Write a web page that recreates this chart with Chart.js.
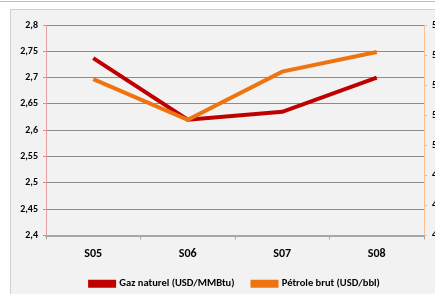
<!DOCTYPE html>
<html>
<head>
<meta charset="utf-8">
<script src="https://cdn.jsdelivr.net/npm/chart.js"></script>
<style>
  html, body { margin: 0; padding: 0; background: #fff; overflow: hidden; width: 435px; height: 294px; }
  #topline { position: absolute; left: 0; top: 1px; width: 435px; height: 1px; background: #bfbfbf; }
  #frame { position: absolute; left: 10px; top: 9px; width: 450px; height: 300px;
           background: #f2f2f2; border: 1px solid #d0d0d0; box-sizing: border-box; }
  #wrap { position: absolute; left: 0; top: 3px; width: 448px; height: 286px; }
</style>
</head>
<body>
<div id="topline"></div>
<div id="frame"><div id="wrap"><canvas id="chart"></canvas></div></div>
<script>
const weeks = ['S05', 'S06', 'S07', 'S08'];
const gasPrice = [2.737, 2.62, 2.635, 2.70];
const oilPrice = [54.4, 51.7, 54.9, 56.2];
const gasTicks = [2.4, 2.45, 2.5, 2.55, 2.6, 2.65, 2.7, 2.75, 2.8];
const oilTicks = [44, 46, 48, 50, 52, 54, 56, 58];

const font = "Carlito, 'Liberation Sans Narrow', 'Open Sans', sans-serif";

new Chart(document.getElementById('chart'), {
    type: 'line',
    data: {
        labels: weeks,
        datasets: [{
            label: 'Gaz naturel (USD/MMBtu)',
            data: gasPrice,
            yAxisID: 'yGas',
            borderColor: '#c00000',
            backgroundColor: '#c00000',
            borderWidth: 4,
            pointRadius: 0,
            tension: 0,
            order: 1
        }, {
            label: 'Pétrole brut (USD/bbl)',
            data: oilPrice,
            yAxisID: 'yOil',
            borderColor: '#ee7410',
            backgroundColor: '#ee7410',
            borderWidth: 4,
            pointRadius: 0,
            tension: 0,
            order: 0
        }]
    },
    options: {
        responsive: true,
        maintainAspectRatio: false,
        animation: false,
        layout: { padding: { top: 12, left: 0, right: 0, bottom: 0 } },
        plugins: {
            tooltip: { enabled: false },
            legend: {
                position: 'bottom',
                labels: {
                    sort: (a, b) => a.datasetIndex - b.datasetIndex,
                    boxWidth: 24,
                    boxHeight: 4,
                    padding: 18,
                    color: '#000',
                    font: { family: font, size: 10.5, weight: '600' }
                }
            }
        },
        scales: {
            x: {
                offset: true,
                grid: { drawOnChartArea: false, drawTicks: true, tickLength: 4, color: '#a6a6a6', offset: true },
                border: { color: '#a6a6a6', width: 2 },
                ticks: { color: '#000', padding: 7, font: { family: font, size: 12, weight: 'bold' } },
                afterFit: s => { s.height = 25; }
            },
            yGas: {
                position: 'left',
                min: 2.4,
                max: 2.8,
                afterBuildTicks: s => { s.ticks = gasTicks.map(v => ({ value: v })); },
                grid: { color: '#8c8c8c', borderDash: [3, 2], tickColor: '#e08a8a', tickLength: 3 },
                border: { color: '#e6a0a0', width: 1, dash: [] },
                ticks: {
                    color: '#000',
                    padding: 5,
                    font: { family: font, size: 10, weight: 'bold' },
                    callback: v => String(+v.toFixed(2)).replace('.', ',')
                },
                afterFit: s => { s.width = 35; }
            },
            yOil: {
                position: 'right',
                min: 44,
                max: 58,
                afterBuildTicks: s => { s.ticks = oilTicks.map(v => ({ value: v })); },
                grid: { drawOnChartArea: false, tickColor: '#fab77a', tickLength: 3 },
                border: { color: '#fac090', width: 1 },
                ticks: {
                    color: '#000',
                    padding: 5,
                    font: { family: font, size: 10, weight: 'bold' }
                },
                afterFit: s => { s.width = 35; }
            }
        }
    }
});
</script>
</body>
</html>
